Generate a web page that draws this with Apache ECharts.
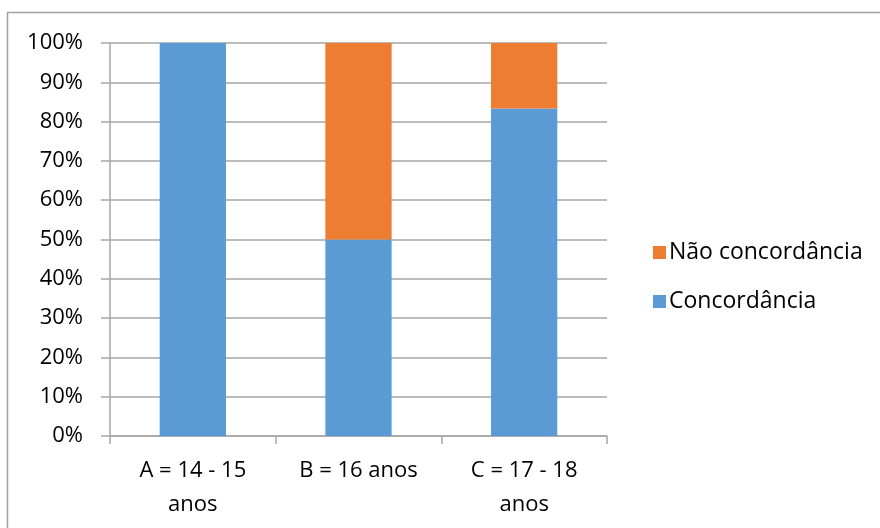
<!DOCTYPE html>
<html>
<head>
<meta charset="utf-8">
<script src="https://cdn.jsdelivr.net/npm/echarts@6/dist/echarts.min.js"></script>
<style>
  html, body { margin: 0; padding: 0; background: #fff; }
  #chart { width: 880px; height: 528px; }
</style>
</head>
<body>
<div id="chart"></div>
<script>
// Age groups and the share (in %) of answers in each group
const categories = ['A = 14 - 15\nanos', 'B = 16 anos', 'C = 17 - 18\nanos'];
const concordancia = [100, 50, 83.33];
const naoConcordancia = [0, 50, 16.67];
const seriesNames = ['Concordância', 'Não concordância'];

const FONT = '"Open Sans", "Noto Sans", sans-serif';
const FONT_SIZE = 22;
const GRID_COLOR = '#a6a6a6';

const chart = echarts.init(document.getElementById('chart'));
chart.setOption({
  animation: false,
  backgroundColor: '#fff',
  graphic: [{
    type: 'rect',
    shape: { x: 7.5, y: 12.5, width: 900, height: 600 },
    style: { fill: 'none', stroke: '#a0a0a0', lineWidth: 1.5 },
    silent: true
  }],
  grid: { left: 110, right: 273, top: 43, bottom: 92 },
  legend: {
    orient: 'vertical',
    left: 648,
    top: 236,
    itemWidth: 13,
    itemHeight: 13,
    itemGap: 26,
    icon: 'rect',
    data: [seriesNames[1], seriesNames[0]],
    textStyle: {
      fontFamily: FONT, fontSize: 23, color: '#000',
      lineHeight: 22, padding: [0, 0, 0, -2]
    }
  },
  xAxis: {
    type: 'category',
    data: categories,
    axisLine: { lineStyle: { color: GRID_COLOR, width: 1.5 } },
    axisTick: { show: true, length: 8, lineStyle: { color: GRID_COLOR, width: 1.5 } },
    axisLabel: {
      fontFamily: FONT, fontSize: FONT_SIZE, color: '#000',
      margin: 18, lineHeight: 34, interval: 0
    }
  },
  yAxis: {
    type: 'value',
    min: 0, max: 100, interval: 10,
    axisLine: { show: true, lineStyle: { color: GRID_COLOR, width: 1.5 } },
    axisTick: { show: true, length: 9, lineStyle: { color: GRID_COLOR, width: 1.5 } },
    splitLine: { lineStyle: { color: GRID_COLOR, width: 1.5 } },
    axisLabel: {
      fontFamily: FONT, fontSize: FONT_SIZE, color: '#000', margin: 27,
      formatter: v => v + '%'
    }
  },
  series: [
    {
      name: seriesNames[0], type: 'bar', stack: 'total',
      data: concordancia, barWidth: '40%',
      itemStyle: { color: '#5b9bd5' }
    },
    {
      name: seriesNames[1], type: 'bar', stack: 'total',
      data: naoConcordancia, barWidth: '40%',
      itemStyle: { color: '#ed7d31' }
    }
  ]
});
</script>
</body>
</html>
